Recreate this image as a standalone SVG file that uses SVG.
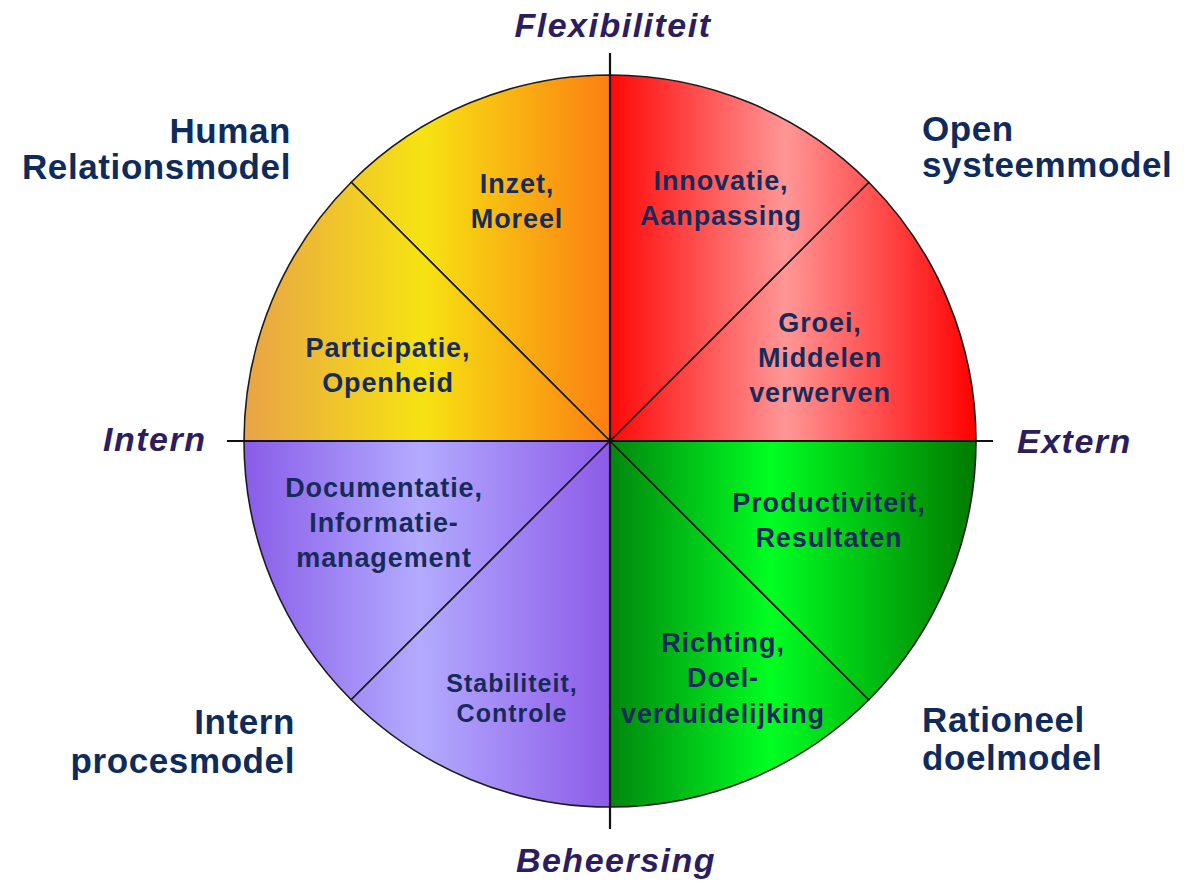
<svg xmlns="http://www.w3.org/2000/svg" width="1186" height="883" viewBox="0 0 1186 883">
<defs>
<linearGradient id="gYellow" gradientUnits="userSpaceOnUse" x1="244" y1="0" x2="610" y2="0">
<stop offset="0" stop-color="#e8a347"/>
<stop offset="0.49" stop-color="#f6e312"/>
<stop offset="1" stop-color="#fc7f12"/>
</linearGradient>
<linearGradient id="gRed" gradientUnits="userSpaceOnUse" x1="610" y1="0" x2="976" y2="0">
<stop offset="0" stop-color="#ff0808"/>
<stop offset="0.48" stop-color="#ff9696"/>
<stop offset="1" stop-color="#ff0000"/>
</linearGradient>
<linearGradient id="gPurple" gradientUnits="userSpaceOnUse" x1="244" y1="0" x2="610" y2="0">
<stop offset="0" stop-color="#895ce8"/>
<stop offset="0.48" stop-color="#b3abff"/>
<stop offset="1" stop-color="#8d5be8"/>
</linearGradient>
<linearGradient id="gGreen" gradientUnits="userSpaceOnUse" x1="610" y1="0" x2="976" y2="0">
<stop offset="0" stop-color="#00870e"/>
<stop offset="0.44" stop-color="#00ff22"/>
<stop offset="1" stop-color="#007a00"/>
</linearGradient>
</defs>
<style>
.slice{stroke:#1c1c1c;stroke-width:1.6;stroke-linejoin:round}
.in{font-family:"Liberation Sans",Arial,sans-serif;font-weight:bold;font-size:27px;fill:#172b5b;text-anchor:middle;letter-spacing:0.9px}
.model{font-family:"Liberation Sans",Arial,sans-serif;font-weight:bold;font-size:35px;fill:#0f2b5b;letter-spacing:0.6px}
.axis{font-family:"Liberation Sans",Arial,sans-serif;font-weight:bold;font-style:italic;font-size:34px;fill:#2b1d5e;letter-spacing:1.5px}
.axline{stroke:#111;stroke-width:2.2;fill:none}
</style>
<rect width="1186" height="883" fill="#ffffff"/>

<g id="seg-inzet">
<path class="slice" fill="url(#gYellow)" d="M610,441 L610,75 A366,366 0 0 0 351.2,182.2 Z"/>
<text class="in" x="517" y="193">Inzet,</text>
<text class="in" x="517" y="228">Moreel</text>
</g>
<g id="seg-participatie">
<path class="slice" fill="url(#gYellow)" d="M610,441 L351.2,182.2 A366,366 0 0 0 244,441 Z"/>
<text class="in" x="388" y="357">Participatie,</text>
<text class="in" x="388" y="392">Openheid</text>
</g>
<g id="seg-documentatie">
<path class="slice" fill="url(#gPurple)" d="M610,441 L244,441 A366,366 0 0 0 351.2,699.8 Z"/>
<text class="in" x="384" y="497">Documentatie,</text>
<text class="in" x="384" y="532">Informatie-</text>
<text class="in" x="384" y="567">management</text>
</g>
<g id="seg-stabiliteit">
<path class="slice" fill="url(#gPurple)" d="M610,441 L351.2,699.8 A366,366 0 0 0 610,807 Z"/>
<text class="in" x="512" y="692" style="font-size:25px;letter-spacing:1px">Stabiliteit,</text>
<text class="in" x="512" y="722" style="font-size:25px;letter-spacing:1px">Controle</text>
</g>
<g id="seg-richting">
<path class="slice" fill="url(#gGreen)" d="M610,441 L610,807 A366,366 0 0 0 868.8,699.8 Z"/>
<text class="in" x="723" y="652">Richting,</text>
<text class="in" x="723" y="687">Doel-</text>
<text class="in" x="723" y="723">verduidelijking</text>
</g>
<g id="seg-productiviteit">
<path class="slice" fill="url(#gGreen)" d="M610,441 L868.8,699.8 A366,366 0 0 0 976,441 Z"/>
<text class="in" x="829" y="512">Productiviteit,</text>
<text class="in" x="829" y="547">Resultaten</text>
</g>
<g id="seg-groei">
<path class="slice" fill="url(#gRed)" d="M610,441 L976,441 A366,366 0 0 0 868.8,182.2 Z"/>
<text class="in" x="820" y="332">Groei,</text>
<text class="in" x="820" y="367">Middelen</text>
<text class="in" x="820" y="402">verwerven</text>
</g>
<g id="seg-innovatie">
<path class="slice" fill="url(#gRed)" d="M610,441 L868.8,182.2 A366,366 0 0 0 610,75 Z"/>
<text class="in" x="721" y="190">Innovatie,</text>
<text class="in" x="721" y="225">Aanpassing</text>
</g>

<g id="connectors">
<line class="axline" x1="610" y1="53" x2="610" y2="829"/>
<line class="axline" x1="227" y1="441" x2="993" y2="441"/>
</g>

<g id="axis-labels">
<text class="axis" x="613" y="37" text-anchor="middle">Flexibiliteit</text>
<text class="axis" x="616" y="872" text-anchor="middle">Beheersing</text>
<text class="axis" x="103" y="451">Intern</text>
<text class="axis" x="1017" y="453">Extern</text>
</g>

<g id="model-human">
<text class="model" x="291" y="143" text-anchor="end">Human</text>
<text class="model" x="291" y="179" text-anchor="end">Relationsmodel</text>
</g>
<g id="model-open">
<text class="model" x="922" y="141">Open</text>
<text class="model" x="922" y="177">systeemmodel</text>
</g>
<g id="model-intern">
<text class="model" x="295" y="734" text-anchor="end">Intern</text>
<text class="model" x="295" y="773" text-anchor="end">procesmodel</text>
</g>
<g id="model-rationeel">
<text class="model" x="922" y="732">Rationeel</text>
<text class="model" x="922" y="770">doelmodel</text>
</g>
</svg>
